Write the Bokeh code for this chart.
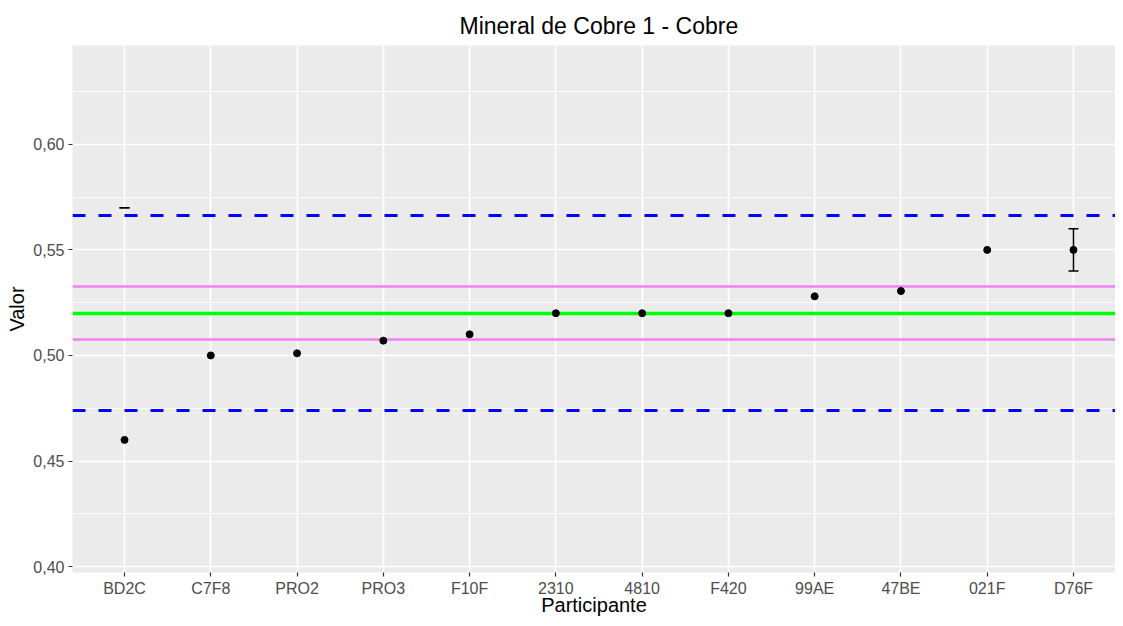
from bokeh.plotting import figure
from bokeh.models import Range1d, FixedTicker, CustomJSTickFormatter
from bokeh.embed import file_html
from bokeh.resources import INLINE

# ---- data ----
participants = ["BD2C", "C7F8", "PRO2", "PRO3", "F10F", "2310",
                "4810", "F420", "99AE", "47BE", "021F", "D76F"]
values = [0.460, 0.500, 0.501, 0.507, 0.510, 0.520,
          0.520, 0.520, 0.528, 0.5305, 0.550, 0.550]
err_participants = ["BD2C", "D76F"]
err_lower = [0.570, 0.540]
err_upper = [0.570, 0.560]
assigned_value = [0.52]
inner_limits = [0.5075, 0.5325]
outer_limits = [0.4738, 0.5662]
y_ticks = [0.40, 0.45, 0.50, 0.55, 0.60]
y_minor_ticks = [0.375, 0.425, 0.475, 0.525, 0.575, 0.625]

FONT = "Liberation Sans"

# category positions on a discrete axis
pos = {name: i for i, name in enumerate(participants)}
x_pts = [pos[n] for n in participants]
x_err = [pos[n] for n in err_participants]

p = figure(
    width=1115, height=618,
    x_range=Range1d(-0.603, 11.487),
    y_range=Range1d(0.3972, 0.6468),
    output_backend="svg", toolbar_location=None,
    title="Mineral de Cobre 1 - Cobre",
    min_border_left=72, min_border_right=0, min_border_top=45, min_border_bottom=37,
)

p.background_fill_color = "#EBEBEB"
p.border_fill_color = "white"
p.outline_line_color = None

# title
p.title.align = "left"
p.title.offset = 387
p.title.text_font = FONT
p.title.text_font_size = "23px"
p.title.text_font_style = "normal"
p.title.text_color = "black"
p.title.standoff = 14

# grids
p.xgrid.grid_line_color = "white"
p.xgrid.grid_line_width = 1.6
p.ygrid.grid_line_color = "white"
p.ygrid.grid_line_width = 1.6
p.ygrid.minor_grid_line_color = "white"
p.ygrid.minor_grid_line_width = 0.8

# axes
p.xaxis.ticker = FixedTicker(ticks=x_pts, minor_ticks=[])
p.xaxis.major_label_overrides = {i: n for i, n in enumerate(participants)}
p.yaxis.ticker = FixedTicker(ticks=y_ticks, minor_ticks=y_minor_ticks)
p.yaxis.formatter = CustomJSTickFormatter(code="return tick.toFixed(2).replace('.', ',')")
for ax in (p.xaxis[0], p.yaxis[0]):
    ax.axis_line_color = None
    ax.major_tick_line_color = "#333333"
    ax.major_tick_line_width = 1.2
    ax.major_tick_in = 0
    ax.major_tick_out = 4
    ax.minor_tick_line_color = None
    ax.major_label_text_font = FONT
    ax.major_label_text_font_size = "16px"
    ax.major_label_text_color = "#4D4D4D"
    ax.axis_label_text_font = FONT
    ax.axis_label_text_font_size = "20px"
    ax.axis_label_text_font_style = "normal"
    ax.axis_label_text_color = "black"

p.xaxis.axis_label = "Participante"
p.yaxis.axis_label = "Valor"
p.xaxis.major_label_standoff = 3
p.xaxis.axis_label_standoff = -6
p.yaxis.major_label_standoff = 4
p.yaxis.axis_label_standoff = 2

# reference lines
p.hspan(y=outer_limits, line_color="blue", line_width=3, line_dash="13 13")
p.hspan(y=inner_limits, line_color="violet", line_width=2.5)
p.hspan(y=assigned_value, line_color="#00FF00", line_width=3.5)

# error bars
p.segment(x0=x_err, y0=err_lower, x1=x_err, y1=err_upper,
          line_color="black", line_width=1.5)
p.scatter(x=x_err, y=err_lower, marker="dash", size=10,
          line_color="black", line_width=1.5)
p.scatter(x=x_err, y=err_upper, marker="dash", size=10,
          line_color="black", line_width=1.5)

# points
p.scatter(x=x_pts, y=values, size=7, color="black")

open("out.html", "w").write(file_html(p, INLINE))
